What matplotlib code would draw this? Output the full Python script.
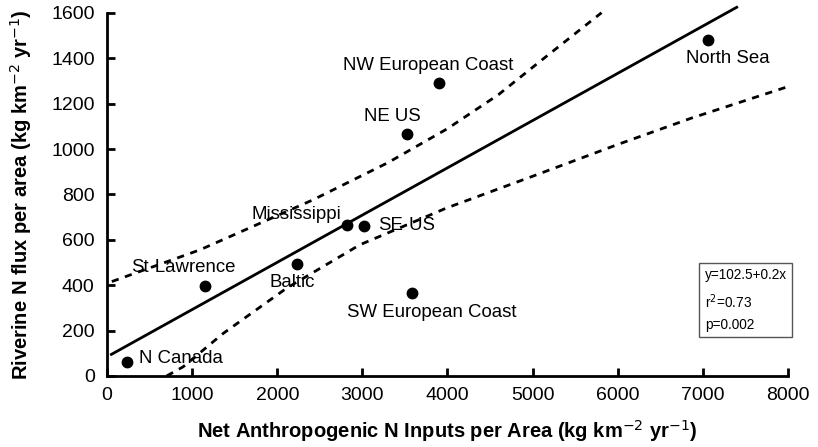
import matplotlib
matplotlib.use("Agg")
import matplotlib.pyplot as plt

plt.rcParams['font.family'] = ['Liberation Sans', 'DejaVu Sans']

# watershed points (net anthropogenic N input, riverine N flux)
names = ["N Canada", "St\u00b7Lawrence", "Baltic", "Mississippi", "SE\u00b7US",
         "SW European Coast", "NE US", "NW European Coast", "North Sea"]
inputs = [230, 1150, 2230, 2820, 3020, 3585, 3530, 3895, 7065]
flux = [63, 397, 494, 666, 663, 367, 1067, 1291, 1482]

# label anchor positions in data units
label_x = [380, 890, 2180, 2230, 3180, 3815, 3357, 3768, 7290]
label_y = [75, 476, 410, 712, 662, 278, 1142, 1367, 1398]
label_ha = ["left", "center", "center", "center", "left", "center", "center", "center", "center"]

# regression line as drawn
fit_x = [50, 7400]
fit_y = [95, 1625]

# confidence bands
upper_x = [55, 1092, 2418, 3300, 4000, 4600, 5100, 5811]
upper_y = [416, 556, 776, 940, 1090, 1240, 1390, 1601]
lower_x = [700, 892, 1366, 2110, 2970, 3988, 5000, 6000, 6864, 8000]
lower_y = [0, 40, 188, 387, 578, 740, 880, 1020, 1136, 1275]

stats_text = "y=102.5+0.2x\nr$^{2}$=0.73\np=0.002"

fig = plt.figure(figsize=(8.18, 4.47), dpi=100)
ax = fig.add_axes([0.131, 0.159, 0.832, 0.812])

ax.plot(fit_x, fit_y, color="black", lw=2, clip_on=False)
ax.plot(upper_x, upper_y, color="black", lw=2, dashes=(2.6, 2.4), clip_on=False)
ax.plot(lower_x, lower_y, color="black", lw=2, dashes=(2.6, 2.4), clip_on=False)
ax.plot(inputs, flux, "o", color="black", ms=7.5, clip_on=False)

for name, lx, ly, ha in zip(names, label_x, label_y, label_ha):
    ax.text(lx, ly, name, ha=ha, va="center", fontsize=13.4)

ax.text(0.878, 0.2975, stats_text, transform=ax.transAxes, fontsize=9.8,
        va="top", ha="left", linespacing=1.65,
        bbox=dict(boxstyle="square,pad=0.4", fc="white", ec="#555555", lw=1))

ax.set_xlim(0, 8000)
ax.set_ylim(0, 1600)
ax.set_xticks(range(0, 8001, 1000))
ax.set_yticks(range(0, 1601, 200))
for s in ["top", "right"]:
    ax.spines[s].set_visible(False)
for s in ["left", "bottom"]:
    ax.spines[s].set_linewidth(2)
ax.tick_params(direction="in", length=6, width=2, labelsize=14)
ax.tick_params(axis="x", pad=8)
ax.tick_params(axis="y", pad=9)

ax.set_xlabel("Net Anthropogenic N Inputs per Area (kg km$^{-2}$ yr$^{-1}$)",
              fontsize=14.5, fontweight="bold", labelpad=10)
ax.set_ylabel("Riverine N flux per area (kg km$^{-2}$ yr$^{-1}$)",
              fontsize=14.5, fontweight="bold", labelpad=12)

fig.savefig("out.png", dpi=100)
